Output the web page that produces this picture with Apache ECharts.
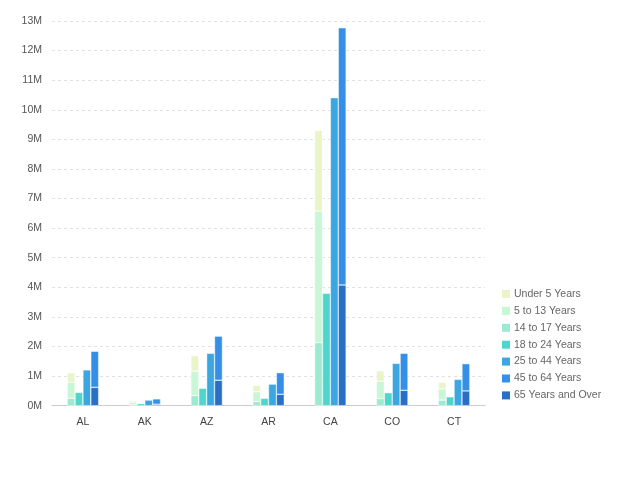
<!DOCTYPE html>
<html>
<head>
<meta charset="utf-8">
<script src="https://cdn.jsdelivr.net/npm/echarts@6/dist/echarts.min.js"></script>
<style>html,body{margin:0;padding:0;background:#fff}#c{width:618px;height:480px}</style>
</head>
<body>
<div id="c"></div>
<script>
const states = ["AL", "AK", "AZ", "AR", "CA", "CO", "CT"];
const yTicks = ["0M","1M","2M","3M","4M","5M","6M","7M","8M","9M","10M","11M","12M","13M"];
// values in millions
const under5   = [0.32, 0.05, 0.52, 0.22, 2.72, 0.35, 0.22];
const age5to13 = [0.54, 0.08, 0.83, 0.33, 4.45, 0.59, 0.38];
const age14to17= [0.25, 0.04, 0.34, 0.14, 2.13, 0.24, 0.19];
const age18to24= [0.45, 0.07, 0.59, 0.25, 3.80, 0.44, 0.30];
const age25to44= [1.21, 0.19, 1.77, 0.73, 10.41, 1.43, 0.89];
const age45to64= [1.22, 0.18, 1.49, 0.73, 8.69, 1.25, 0.92];
const age65plus= [0.62, 0.05, 0.86, 0.385, 4.08, 0.52, 0.50];

const names = ["Under 5 Years","5 to 13 Years","14 to 17 Years","18 to 24 Years","25 to 44 Years","45 to 64 Years","65 Years and Over"];
const colors = {
  "Under 5 Years": "#e9f5c9",
  "5 to 13 Years": "#c9f6d5",
  "14 to 17 Years": "#9ee9d2",
  "18 to 24 Years": "#4fd5cc",
  "25 to 44 Years": "#3ca6e0",
  "45 to 64 Years": "#358fe6",
  "65 Years and Over": "#2a6fc6"
};
function s(name, stack, data){
  return {name, type:'bar', stack, data, barGap:'0%', barCategoryGap:'49%',
    itemStyle:{color:colors[name], borderColor:'rgba(255,255,255,0.9)', borderWidth:0.5}};
}
const chart = echarts.init(document.getElementById('c'), null, {renderer:'canvas'});
chart.setOption({
  animation:false,
  textStyle:{fontFamily:'Helvetica, "Liberation Sans", Arial, sans-serif'},
  grid:{left:52, right:133, top:21, bottom:74.3},
  legend:{orient:'vertical', left:497, top:282, itemWidth:8, itemHeight:8, itemGap:2.9,
    icon:'rect', data:names, itemStyle:{borderWidth:0},
    textStyle:{fontSize:10.5, color:'#666', lineHeight:14, padding:[0,0,0,-1]}},
  xAxis:{type:'category', data:states,
    axisLine:{lineStyle:{color:'#ccc'}},
    axisTick:{alignWithLabel:true, length:4, lineStyle:{color:'#ccc'}},
    axisLabel:{color:'#444', fontSize:10.5, margin:11}},
  yAxis:{type:'value', min:0, max:13, interval:1,
    axisLine:{show:false}, axisTick:{show:false},
    axisLabel:{color:'#555', fontSize:10.5, margin:10, formatter:(v)=>yTicks[Math.round(v)]},
    splitLine:{lineStyle:{color:'#e2e2e2', type:[3,3]}}},
  series:[
    s("14 to 17 Years","a",age14to17),
    s("5 to 13 Years","a",age5to13),
    s("Under 5 Years","a",under5),
    s("18 to 24 Years","b",age18to24),
    s("25 to 44 Years","c",age25to44),
    s("65 Years and Over","d",age65plus),
    s("45 to 64 Years","d",age45to64)
  ]
});
</script>
</body>
</html>
